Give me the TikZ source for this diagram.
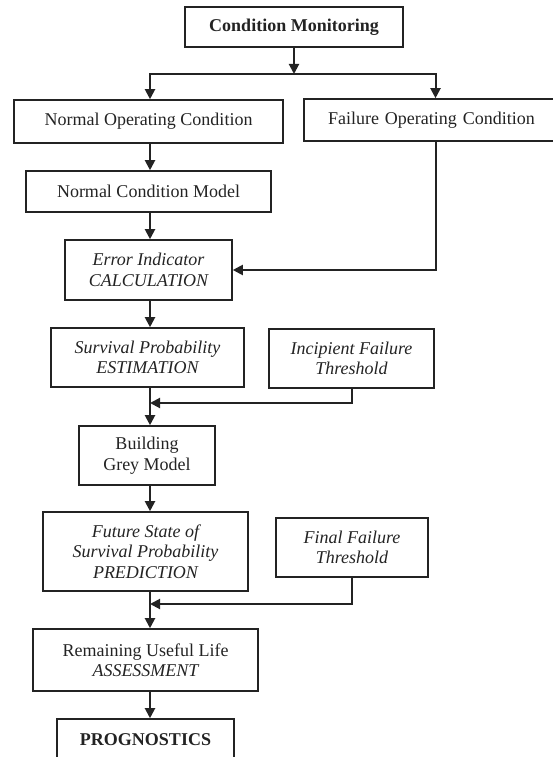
\documentclass[tikz,border=0pt]{standalone}
\usepackage{fontspec}
\setmainfont{Liberation Serif}
\usepackage{tikz}
\usetikzlibrary{shapes,arrows.meta}
\usetikzlibrary{positioning}

\definecolor{ink}{RGB}{35,35,35}
\tikzset{
  box/.style={draw=ink,text=ink,line width=1.6pt,align=center,inner sep=0pt,font=\fontsize{18}{20.5}\selectfont},
  flow/.style={draw=ink,line width=2pt,-{Triangle[length=10pt,width=10pt]}}
}

\begin{document}
\begin{tikzpicture}[x=1pt,y=-1pt]

\useasboundingbox (0,0) rectangle (553,757);
\clip (0,0) rectangle (553,757);

\coordinate (col) at (150,0);
\coordinate (split) at (294,74);
\coordinate (merge1) at (150,403);
\coordinate (merge2) at (150,604);

\node[box,minimum width=218pt,minimum height=40pt] (cm) at (294,27) {\bfseries Condition Monitoring};

\node[box,minimum width=269pt,minimum height=43pt] (noc) at (148.5,121.5) {Normal Operating Condition};
\node[box,minimum width=263pt,minimum height=42pt,text width=243pt,align=left] (foc) at (435.5,120) {\hspace*{14pt}Failure Operating Condition};

\node[box,minimum width=245pt,minimum height=41pt] (ncm) at (148.5,191.5) {Normal Condition Model};
\node[box,minimum width=167pt,minimum height=60pt] (ei) at (148.5,270) {\itshape Error Indicator\\\itshape CALCULATION};

\node[box,minimum width=193pt,minimum height=59pt] (sp) at (147.5,357.5) {\itshape Survival Probability\\\itshape ESTIMATION};
\node[box,minimum width=165pt,minimum height=59pt] (ift) at (351.5,358.5) {\itshape Incipient Failure\\\itshape Threshold};

\node[box,minimum width=136pt,minimum height=59pt] (bgm) at (147,455.5) {Building\\Grey Model};

\node[box,minimum width=205pt,minimum height=79pt] (fssp) at (145.5,551.5) {\itshape Future State of\\\itshape Survival Probability\\\itshape PREDICTION};
\node[box,minimum width=152pt,minimum height=59pt] (fft) at (352,547.5) {\itshape Final Failure\\\itshape Threshold};

\node[box,minimum width=225pt,minimum height=62pt] (rul) at (145.5,660) {Remaining Useful Life\\\itshape ASSESSMENT};
\node[box,minimum width=177pt,minimum height=42pt] (prog) at (145.5,740) {\bfseries PROGNOSTICS};


\draw[flow] (cm.south) -- (split);
\draw[flow] (split) -| (noc.north -| col);
\draw[flow] (split) -| (foc.north);

\draw[flow] (noc.south -| col) -- (ncm.north -| col);
\draw[flow] (ncm.south -| col) -- (ei.north -| col);
\draw[flow] (foc.south) |- (ei.east);
\draw[flow] (ei.south -| col) -- (sp.north -| col);

\draw[flow] (sp.south -| col) -- (bgm.north -| col);
\draw[flow] (ift.south) |- (merge1);

\draw[flow] (bgm.south -| col) -- (fssp.north -| col);
\draw[flow] (fssp.south -| col) -- (rul.north -| col);
\draw[flow] (fft.south) |- (merge2);

\draw[flow] (rul.south -| col) -- (prog.north -| col);

\end{tikzpicture}
\end{document}
